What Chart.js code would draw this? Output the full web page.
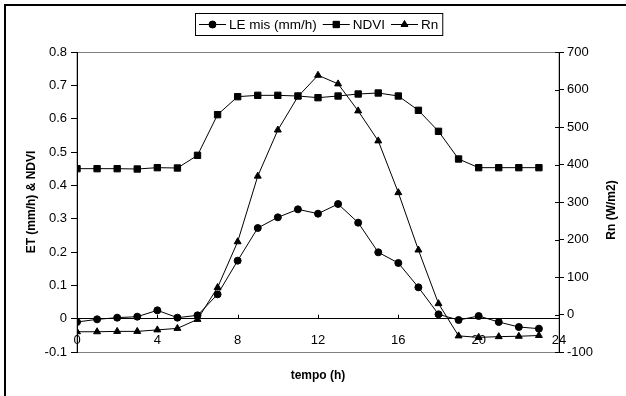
<!DOCTYPE html>
<html>
<head>
<meta charset="utf-8">
<script src="https://cdn.jsdelivr.net/npm/chart.js@4.4.0/dist/chart.umd.min.js"></script>
<style>
body { margin: 0; background: #fff; overflow: hidden; }
.frame { position: absolute; left: 4px; top: 4px; width: 660px; height: 440px; border: 2px solid #000; }
#wrap { position: absolute; left: 0; top: 0; width: 626px; height: 396px; }
</style>
</head>
<body>
<div class="frame"></div>
<div id="wrap"><canvas id="myChart"></canvas></div>
<script>
const hours = [0, 1, 2, 3, 4, 5, 6, 7, 8, 9, 10, 11, 12, 13, 14, 15, 16, 17, 18, 19, 20, 21, 22, 23];
const leMis = [-0.01, -0.002, 0.003, 0.006, 0.025, 0.003, 0.01, 0.073, 0.174, 0.272, 0.304, 0.328, 0.315, 0.344, 0.288, 0.199, 0.167, 0.094, 0.013, -0.004, 0.008, -0.01, -0.025, -0.03];
const ndvi = [0.45, 0.45, 0.45, 0.449, 0.453, 0.452, 0.49, 0.612, 0.666, 0.67, 0.67, 0.668, 0.663, 0.668, 0.674, 0.677, 0.668, 0.625, 0.562, 0.479, 0.453, 0.453, 0.453, 0.453];
const rn = [-46, -46, -45, -45, -41, -37, -13, 72, 194, 369, 492, 581, 638, 615, 543, 463, 325, 172, 29, -57, -61, -59, -58, -56];

const FONT = '"Liberation Sans", Arial, sans-serif';

function pts(values) {
    return hours.map((h, i) => ({ x: h, y: values[i] }));
}

// cornice grigia, tacche e titoli assi
const extras = {
    id: 'extras',
    beforeDraw(chart) {
        const a = chart.chartArea, ctx = chart.ctx;
        ctx.save();
        ctx.strokeStyle = '#808080';
        ctx.lineWidth = 1;
        ctx.strokeRect(a.left, a.top + 0.5, a.right - a.left, a.bottom - a.top);
        ctx.restore();
    },
    afterDraw(chart) {
        const ctx = chart.ctx, a = chart.chartArea;
        const x = chart.scales.x, y = chart.scales.y, y1 = chart.scales.y1;
        ctx.save();
        ctx.strokeStyle = '#000';
        ctx.lineWidth = 1;
        ctx.beginPath();
        x.ticks.forEach(t => {
            const px = Math.round(x.getPixelForValue(t.value)) + 0.5;
            const py = y.getPixelForValue(0);
            ctx.moveTo(px, py);
            ctx.lineTo(px, py - 4);
        });
        y1.ticks.forEach(t => {
            const py = Math.round(y1.getPixelForValue(t.value)) + 0.5;
            ctx.moveTo(a.right, py);
            ctx.lineTo(a.right - 4, py);
        });
        ctx.stroke();

        ctx.fillStyle = '#000';
        ctx.font = 'bold 12px ' + FONT;
        ctx.textAlign = 'center';
        ctx.textBaseline = 'middle';
        ctx.fillText('tempo (h)', 318, 376);
        ctx.save();
        ctx.translate(32, 202);
        ctx.rotate(-Math.PI / 2);
        ctx.fillText('ET (mm/h) & NDVI', 0, 0);
        ctx.restore();
        ctx.save();
        ctx.translate(612, 210);
        ctx.rotate(-Math.PI / 2);
        ctx.fillText('Rn (W/m2)', 0, 0);
        ctx.restore();

        // legenda con riquadro
        const items = [
            { text: 'LE mis (mm/h)', style: 'circle', r: 3.5 },
            { text: 'NDVI', style: 'rect', r: 4.5 },
            { text: 'Rn', style: 'triangle', r: 4 }
        ];
        ctx.font = '13.5px ' + FONT;
        ctx.textAlign = 'left';
        const bx = 195, by = 13, bh = 22;
        let cx = bx + 4;
        const cy = by + bh / 2 + 0.5;
        items.forEach(it => {
            ctx.strokeStyle = '#000';
            ctx.beginPath();
            ctx.moveTo(cx, cy);
            ctx.lineTo(cx + 27, cy);
            ctx.stroke();
            Chart.helpers.drawPoint(ctx, { pointStyle: it.style, radius: it.r, rotation: 0, borderWidth: 1 }, cx + 13.5, cy);
            ctx.fillStyle = '#000';
            ctx.fill();
            cx += 30;
            ctx.fillText(it.text, cx, cy + 0.5);
            cx += ctx.measureText(it.text).width + 6;
        });
        ctx.strokeStyle = '#000';
        ctx.strokeRect(bx + 0.5, by + 0.5, cx - 2 - bx, bh);
        ctx.restore();
    }
};

const ctx = document.getElementById('myChart');

new Chart(ctx, {
    type: 'line',
    data: {
        datasets: [
            { label: 'LE mis (mm/h)', data: pts(leMis), yAxisID: 'y', pointStyle: 'circle', pointRadius: 3.5 },
            { label: 'NDVI', data: pts(ndvi), yAxisID: 'y', pointStyle: 'rect', pointRadius: 4.5 },
            { label: 'Rn', data: pts(rn), yAxisID: 'y1', pointStyle: 'triangle', pointRadius: 4 }
        ].map(d => Object.assign(d, {
            borderColor: '#000',
            backgroundColor: '#000',
            pointBackgroundColor: '#000',
            pointBorderColor: '#000',
            borderWidth: 1,
            tension: 0
        }))
    },
    options: {
        responsive: true,
        maintainAspectRatio: false,
        animation: false,
        layout: { padding: { left: 20, right: 17, top: 52, bottom: 44 } },
        plugins: {
            legend: { display: false },
            tooltip: { enabled: false }
        },
        scales: {
            x: {
                type: 'linear',
                position: { y: 0 },
                min: 0,
                max: 24,
                ticks: { stepSize: 4, color: '#000', font: { family: FONT, size: 13 }, padding: 6 },
                grid: { display: false },
                border: { color: '#000' }
            },
            y: {
                position: 'left',
                min: -0.1,
                max: 0.8,
                ticks: { stepSize: 0.1, color: '#000', font: { family: FONT, size: 13 }, padding: 4,
                    callback: v => Math.abs(v) < 1e-9 ? '0' : v.toFixed(1) },
                grid: { drawOnChartArea: false, tickLength: 6, color: '#000' },
                border: { color: '#000' },
                afterFit(scale) { scale.width = 57; }
            },
            y1: {
                position: 'right',
                min: -100,
                max: 700,
                ticks: { stepSize: 100, color: '#000', font: { family: FONT, size: 13 }, padding: 3 },
                grid: { drawOnChartArea: false, tickLength: 5, color: '#000' },
                border: { color: '#000' },
                afterFit(scale) { scale.width = 50; }
            }
        }
    },
    plugins: [extras]
});
</script>
</body>
</html>
